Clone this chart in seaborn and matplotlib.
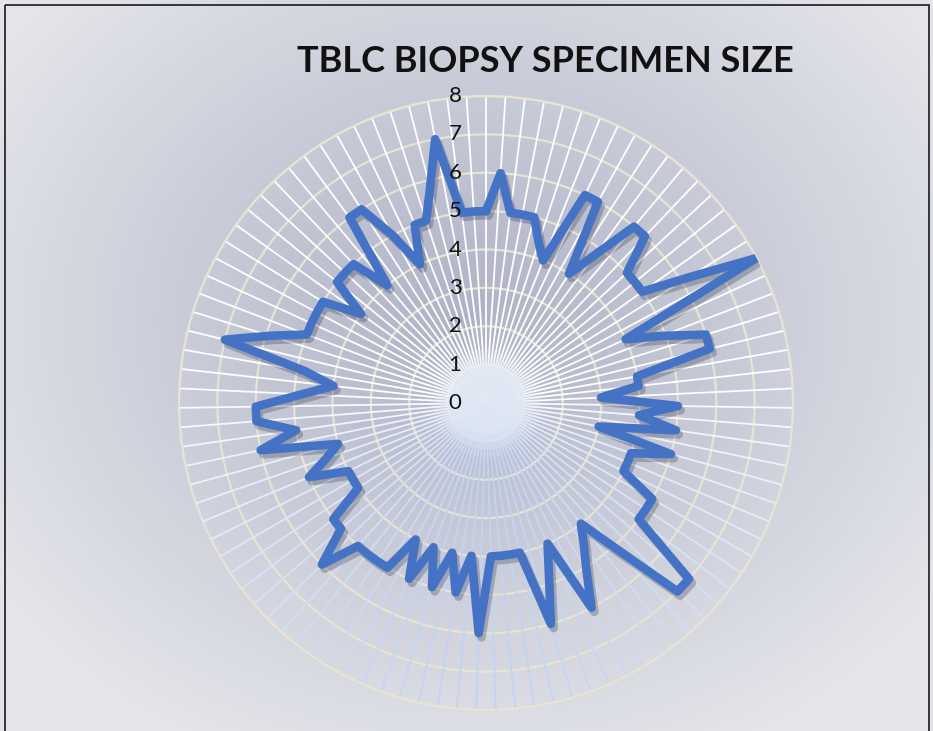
import numpy as np
import pandas as pd
import matplotlib
matplotlib.use("Agg")
import matplotlib.pyplot as plt
import matplotlib.patheffects as pe
from matplotlib.patches import Rectangle
import seaborn as sns

# specimen size of each case, clockwise from the top spoke
sizes = [5, 6, 5, 5, 5, 4.4, 4, 6, 6, 4,
         4.8, 6, 6, 5, 5, 5, 6.2, 8, 4, 4.9,
         6, 6, 4, 4, 3, 5, 4, 5, 3, 5,
         4, 4, 4, 5, 5, 5, 7, 7, 5.1, 4,
         4.5, 5.1, 6, 4, 4.8, 6, 4, 4, 4, 4,
         6, 4, 5, 4, 5, 4, 5, 4, 5, 5,
         5, 5, 6, 5, 5, 4, 4, 4, 5, 4.4,
         4, 6, 5, 6, 6, 4.8, 4, 4.8, 7, 5.9,
         5, 5, 5, 5, 4, 5, 5, 5, 4, 6,
         6, 5, 4, 5, 5, 5.8, 7, 5, 5]
r_ticks = [0, 1, 2, 3, 4, 5, 6, 7, 8]
title = "TBLC BIOPSY SPECIMEN SIZE"

sns.set_theme(style="white")
plt.rcParams['font.family'] = ['Lato', 'DejaVu Sans']

W, H = 933, 731
fig = plt.figure(figsize=(W / 100, H / 100), dpi=100)

# gradient background of the chart area
bg = fig.add_axes([0, 0, 1, 1])
yy, xx = np.mgrid[0:H, 0:W]
t = np.clip(np.hypot((xx - 470) / 560, (yy - 320) / 470), 0, 1)[..., None]
c_mid = np.array([174, 178, 198]) / 255
c_out = np.array([228, 229, 234]) / 255
bg.imshow(c_mid * (1 - t) + c_out * t, extent=[0, W, H, 0], aspect='auto')
bg.set_xlim(0, W)
bg.set_ylim(H, 0)
bg.axis('off')
bg.add_patch(Rectangle((4.5, 4.5), W - 9, H, fill=False, ec='#1a1a1a', lw=1.2))

# radar axes, centre at (486, 403) px, radius 307 px
R = 307
ax = fig.add_axes([(486 - R) / W, (H - 403 - R) / H, 2 * R / W, 2 * R / H],
                  projection='polar')
ax.set_facecolor('none')
ax.set_theta_zero_location('N')
ax.set_theta_direction(-1)

n = len(sizes)
theta = np.linspace(0, 2 * np.pi, n, endpoint=False)

# spokes: white on top, pale blue towards the bottom
mix = np.clip((-np.cos(theta) + 0.1) / 1.1, 0, 1)[:, None]
spoke_cols = (1 - mix) * np.array([1, 1, 1]) + mix * np.array([0.76, 0.83, 0.95])
ax.vlines(theta, 0, 8, colors=spoke_cols, lw=1.3, zorder=1)

# soft pale glow where the spokes meet
ring = np.linspace(0, 2 * np.pi, 200)
for rr, a in [(1.4, 0.2), (1.2, 0.35), (1.0, 0.55), (0.8, 0.8)]:
    ax.fill_between(ring, 0, rr, color='#dfe7f4', alpha=a, lw=0, zorder=1.5)

ax.set_xticks(theta)
ax.set_xticklabels([])
ax.set_yticks(r_ticks)
ax.set_yticklabels([])
ax.set_ylim(0, 8)
ax.grid(False)
ax.yaxis.grid(True, color='#e8e3d4', lw=1.6, zorder=2)
ax.spines['polar'].set_color('#e8e3d4')
ax.spines['polar'].set_linewidth(1.6)

df = pd.DataFrame({'theta': np.append(theta, 2 * np.pi),
                   'size': sizes + sizes[:1]})
sns.lineplot(data=df, x='theta', y='size', sort=False, estimator=None, ax=ax,
             color='#4472C4', lw=6.2, solid_joinstyle='round', zorder=5,
             path_effects=[pe.SimpleLineShadow(offset=(2, -3), shadow_color='#2b3045',
                                               alpha=0.28), pe.Normal()])
ax.set_xlabel('')
ax.set_ylabel('')

for v in r_ticks:
    ax.annotate(str(v), xy=(0, v), xytext=(-31, 0), textcoords='offset pixels',
                ha='center', va='center', fontsize=16, color='#111111', zorder=6)

fig.text(545 / W, 1 - 61 / H, title, ha='center', va='center',
         fontsize=26, fontweight='bold', color='#111111')

fig.savefig('out.png', dpi=100)
